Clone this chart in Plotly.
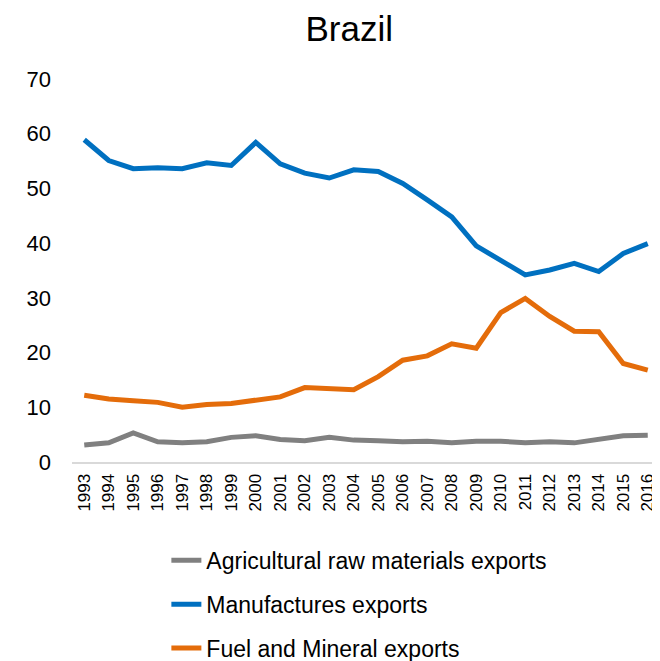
import plotly.graph_objects as go

# Brazil export shares (% of merchandise exports)
YEARS = [str(y) for y in range(1993, 2017)]

AGRI_RAW = [3.1, 3.5, 5.3, 3.7, 3.5, 3.7, 4.5, 4.8, 4.1, 3.9, 4.5, 4.0,
            3.9, 3.7, 3.8, 3.5, 3.8, 3.8, 3.5, 3.7, 3.5, 4.1, 4.8, 4.9]
MANUFACTURES = [58.9, 55.1, 53.6, 53.8, 53.6, 54.7, 54.2, 58.4, 54.5, 52.8, 51.9, 53.4,
                53.1, 50.9, 47.9, 44.8, 39.5, 36.8, 34.2, 35.1, 36.3, 34.8, 38.1, 39.9]
FUEL_MINERAL = [12.2, 11.5, 11.2, 10.9, 10.0, 10.5, 10.7, 11.3, 11.9, 13.6, 13.5, 13.2,
                15.6, 18.6, 19.4, 21.6, 20.8, 27.3, 29.9, 26.6, 23.9, 23.8, 18.0, 16.8]

SERIES = [
    ("Agricultural raw materials exports", AGRI_RAW, "#808080"),
    ("Manufactures exports", MANUFACTURES, "#0070C0"),
    ("Fuel and Mineral exports", FUEL_MINERAL, "#E46C0A"),
]

FONT = "Arial, Liberation Sans, sans-serif"

fig = go.Figure()
for i, (name, values, color) in enumerate(SERIES):
    fig.add_trace(
        go.Scatter(
            x=YEARS,
            y=values,
            name=name,
            mode="lines",
            line=dict(color=color, width=5),
            legendgroup=f"g{i}",
        )
    )

# the page body adds an 8px offset, so margins are shifted accordingly
fig.update_layout(
    width=660,
    height=661,
    paper_bgcolor="white",
    plot_bgcolor="white",
    font=dict(family=FONT, color="black"),
    title=dict(
        text="Brazil",
        x=0.517,
        xanchor="center",
        y=0.969,
        yanchor="middle",
        font=dict(size=35, family=FONT, color="black"),
    ),
    margin=dict(l=64, r=8, t=71, b=207, autoexpand=False),
    showlegend=True,
    legend=dict(
        orientation="v",
        xref="paper",
        x=0.1605,
        xanchor="left",
        yref="container",
        y=0.197,
        yanchor="top",
        font=dict(size=23, family=FONT, color="black"),
        traceorder="grouped",
        tracegroupgap=11,
    ),
)
fig.update_xaxes(
    type="category",
    range=[-0.5, 23.5],
    tickangle=-90,
    tickfont=dict(size=17, family=FONT, color="black"),
    showgrid=False,
    showline=True,
    linecolor="#D9D9D9",
    linewidth=2,
    ticks="",
    zeroline=False,
    ticklabelstandoff=3,
    automargin=False,
)
fig.update_yaxes(
    range=[0, 70],
    dtick=10,
    tickfont=dict(size=22, family=FONT, color="black"),
    showgrid=False,
    showline=False,
    zeroline=False,
    ticks="",
    ticklabelstandoff=20,
    automargin=False,
)

fig.write_html("out.html")
